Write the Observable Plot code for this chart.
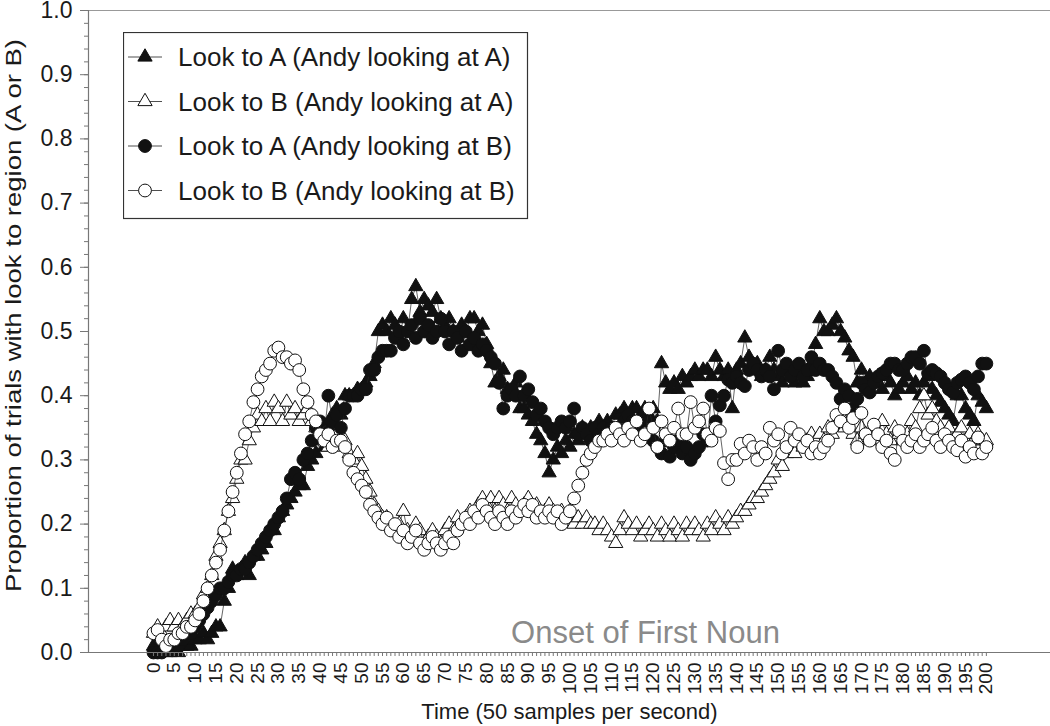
<!DOCTYPE html>
<html><head><meta charset="utf-8">
<script src="https://cdn.jsdelivr.net/npm/d3@7"></script>
<script src="https://cdn.jsdelivr.net/npm/@observablehq/plot@0.6"></script>
<style>
body{margin:0;background:#fff;font-family:"Liberation Sans",Arial,sans-serif;}
#wrap{position:relative;width:1050px;height:726px;overflow:hidden;}
#legend{position:absolute;left:123px;top:32px;}
</style></head><body><div id="wrap"></div>
<script>
// sample index (50 samples per second)
const samples = d3.range(0, 201);

const seriesNames = [
  "Look to A (Andy looking at A)",
  "Look to B (Andy looking at A)",
  "Look to A (Andy looking at B)",
  "Look to B (Andy looking at B)"
];

const lookA_andyA = [
  0.01,0.0,0.01,0.0,0.0,0.01,0.0,0.01,0.01,0.01,
  0.02,0.02,0.03,0.02,0.03,0.04,0.04,0.08,0.1,0.13,
  0.12,0.13,0.14,0.12,0.15,0.15,0.16,0.17,0.19,0.19,
  0.21,0.22,0.23,0.24,0.25,0.26,0.26,0.29,0.3,0.31,
  0.33,0.32,0.35,0.37,0.38,0.37,0.4,0.4,0.4,0.41,
  0.41,0.42,0.43,0.45,0.5,0.51,0.5,0.52,0.51,0.49,
  0.52,0.5,0.55,0.57,0.53,0.55,0.54,0.53,0.55,0.52,
  0.51,0.52,0.5,0.49,0.51,0.5,0.52,0.52,0.5,0.51,
  0.48,0.45,0.42,0.43,0.44,0.41,0.4,0.42,0.38,0.38,
  0.37,0.36,0.34,0.33,0.31,0.28,0.3,0.32,0.31,0.33,
  0.32,0.34,0.33,0.35,0.34,0.35,0.34,0.36,0.35,0.36,
  0.35,0.37,0.37,0.38,0.37,0.38,0.38,0.37,0.38,0.37,
  0.38,0.36,0.45,0.42,0.41,0.42,0.41,0.43,0.42,0.43,
  0.44,0.43,0.44,0.44,0.43,0.46,0.44,0.43,0.44,0.38,
  0.44,0.45,0.49,0.46,0.44,0.45,0.43,0.44,0.46,0.44,
  0.43,0.42,0.44,0.43,0.42,0.44,0.42,0.43,0.45,0.48,
  0.52,0.5,0.5,0.51,0.52,0.5,0.49,0.47,0.46,0.42,
  0.44,0.42,0.43,0.42,0.43,0.41,0.43,0.42,0.4,0.41,
  0.42,0.43,0.41,0.42,0.4,0.42,0.43,0.41,0.4,0.39,
  0.38,0.37,0.36,0.4,0.4,0.38,0.37,0.36,0.4,0.39,0.38
];

const lookB_andyA = [
  0.03,0.04,0.03,0.04,0.05,0.04,0.05,0.04,0.05,0.06,
  0.06,0.07,0.09,0.1,0.12,0.15,0.17,0.19,0.22,0.24,
  0.27,0.3,0.3,0.33,0.35,0.37,0.36,0.38,0.36,0.39,
  0.38,0.36,0.39,0.37,0.38,0.36,0.37,0.38,0.36,0.35,
  0.34,0.33,0.32,0.33,0.34,0.32,0.33,0.31,0.3,0.31,
  0.29,0.27,0.25,0.23,0.22,0.21,0.21,0.2,0.19,0.2,
  0.22,0.19,0.18,0.2,0.19,0.17,0.18,0.19,0.18,0.17,
  0.19,0.2,0.19,0.21,0.2,0.21,0.22,0.21,0.23,0.24,
  0.23,0.24,0.22,0.24,0.23,0.22,0.24,0.23,0.22,0.23,
  0.24,0.22,0.23,0.21,0.22,0.23,0.22,0.21,0.22,0.21,
  0.22,0.2,0.21,0.2,0.21,0.2,0.2,0.19,0.2,0.19,
  0.18,0.17,0.19,0.21,0.2,0.19,0.2,0.18,0.19,0.2,
  0.19,0.18,0.2,0.19,0.18,0.2,0.19,0.18,0.2,0.19,
  0.2,0.19,0.18,0.2,0.19,0.21,0.2,0.19,0.21,0.2,
  0.21,0.22,0.22,0.23,0.24,0.24,0.25,0.26,0.27,0.28,
  0.3,0.29,0.31,0.32,0.31,0.33,0.32,0.33,0.34,0.33,
  0.34,0.33,0.35,0.34,0.36,0.37,0.35,0.38,0.34,0.33,
  0.35,0.34,0.33,0.35,0.34,0.36,0.34,0.33,0.35,0.34,
  0.33,0.34,0.36,0.35,0.38,0.4,0.37,0.38,0.36,0.35,
  0.34,0.35,0.33,0.34,0.35,0.33,0.34,0.33,0.34,0.33,0.33
];

const lookA_andyB = [
  0.0,0.0,0.0,0.005,0.005,0.01,0.01,0.02,0.03,0.03,
  0.04,0.05,0.06,0.07,0.08,0.09,0.1,0.1,0.11,0.12,
  0.12,0.13,0.13,0.14,0.15,0.16,0.17,0.18,0.19,0.2,
  0.21,0.22,0.24,0.27,0.28,0.27,0.3,0.31,0.33,0.35,
  0.36,0.34,0.4,0.36,0.37,0.35,0.38,0.4,0.4,0.4,
  0.41,0.41,0.44,0.44,0.46,0.47,0.47,0.47,0.49,0.5,
  0.48,0.5,0.51,0.49,0.52,0.5,0.51,0.49,0.5,0.52,
  0.5,0.48,0.5,0.49,0.47,0.5,0.48,0.49,0.47,0.48,
  0.47,0.46,0.45,0.42,0.38,0.4,0.41,0.4,0.43,0.4,
  0.41,0.39,0.37,0.38,0.36,0.35,0.34,0.35,0.36,0.35,
  0.36,0.38,0.34,0.35,0.34,0.33,0.35,0.34,0.35,0.34,
  0.35,0.34,0.35,0.36,0.37,0.36,0.35,0.36,0.37,0.36,
  0.33,0.32,0.31,0.33,0.305,0.32,0.33,0.31,0.32,0.3,
  0.31,0.32,0.34,0.33,0.4,0.36,0.385,0.4,0.425,0.42,
  0.43,0.42,0.415,0.44,0.45,0.44,0.43,0.44,0.43,0.41,
  0.47,0.44,0.45,0.43,0.44,0.45,0.43,0.44,0.46,0.44,
  0.45,0.44,0.44,0.43,0.42,0.395,0.41,0.4,0.38,0.395,
  0.42,0.41,0.405,0.42,0.43,0.435,0.44,0.45,0.45,0.44,
  0.44,0.45,0.46,0.46,0.45,0.47,0.435,0.44,0.435,0.43,
  0.42,0.41,0.405,0.42,0.425,0.43,0.42,0.41,0.43,0.45,0.45
];

const lookB_andyB = [
  0.03,0.035,0.02,0.01,0.02,0.02,0.03,0.03,0.04,0.04,
  0.05,0.06,0.08,0.1,0.12,0.14,0.16,0.19,0.22,0.25,
  0.28,0.31,0.34,0.36,0.39,0.41,0.43,0.44,0.45,0.47,
  0.475,0.46,0.46,0.45,0.455,0.44,0.41,0.39,0.37,0.36,
  0.34,0.33,0.34,0.32,0.33,0.33,0.32,0.3,0.28,0.27,
  0.26,0.25,0.23,0.22,0.21,0.2,0.21,0.19,0.2,0.18,
  0.19,0.17,0.18,0.19,0.17,0.16,0.17,0.18,0.17,0.16,
  0.17,0.18,0.17,0.19,0.2,0.21,0.2,0.22,0.21,0.23,
  0.22,0.21,0.2,0.22,0.21,0.2,0.22,0.21,0.22,0.23,
  0.22,0.23,0.21,0.22,0.21,0.22,0.21,0.22,0.2,0.21,
  0.22,0.24,0.26,0.28,0.3,0.31,0.32,0.33,0.33,0.34,
  0.33,0.35,0.34,0.33,0.35,0.34,0.36,0.33,0.34,0.38,
  0.35,0.32,0.36,0.34,0.33,0.35,0.38,0.34,0.34,0.39,
  0.35,0.36,0.38,0.34,0.33,0.35,0.345,0.295,0.27,0.3,
  0.3,0.325,0.31,0.33,0.32,0.3,0.32,0.31,0.35,0.33,
  0.34,0.31,0.32,0.35,0.33,0.34,0.32,0.33,0.31,0.32,
  0.31,0.32,0.33,0.35,0.37,0.36,0.38,0.35,0.365,0.32,
  0.373,0.34,0.33,0.355,0.34,0.32,0.33,0.31,0.3,0.345,
  0.33,0.32,0.33,0.34,0.32,0.33,0.34,0.35,0.33,0.32,
  0.34,0.33,0.32,0.315,0.33,0.305,0.32,0.31,0.335,0.31,0.32
];

const xTickLabels = [0,5,10,15,20,25,30,35,40,45,50,55,60,65,70,75,80,85,90,95,100,105,110,115,120,125,130,135,140,145,150,155,160,165,170,175,180,185,190,195,200];
const yTickLabels = [0,0.1,0.2,0.3,0.4,0.5,0.6,0.7,0.8,0.9,1.0];

const seriesValues = [lookA_andyA, lookB_andyA, lookA_andyB, lookB_andyB];
const seriesStyle = [
  {symbol: "triangle", fill: "#111", r: 5.3},
  {symbol: "triangle", fill: "#fff", r: 5.3},
  {symbol: "circle", fill: "#111", r: 6.4},
  {symbol: "circle", fill: "#fff", r: 6.4}
];

const xDomain = [-15.6, 215.4];
const xMinor = samples;
const yMinor = d3.range(0, 51).map(i => i / 50);

const seriesMarks = [];
seriesValues.forEach((vals, i) => {
  const rows = samples.map(t => ({t, v: vals[t]}));
  const st = seriesStyle[i];
  seriesMarks.push(Plot.line(rows, {x: "t", y: "v", stroke: "#222", strokeWidth: 0.7}));
  seriesMarks.push(Plot.dot(rows, {x: "t", y: "v", symbol: st.symbol, r: st.r, fill: st.fill, stroke: "#111", strokeWidth: 1}));
});

const chart = Plot.plot({
  width: 1050, height: 726,
  marginLeft: 88, marginRight: 0, marginTop: 10, marginBottom: 74,
  x: {domain: xDomain},
  y: {domain: [0, 1]},
  style: {fontFamily: "'Liberation Sans', Arial, sans-serif", background: "#fff", color: "#1a1a1a"},
  marks: [
    Plot.ruleY([1], {stroke: "#999", strokeWidth: 1.2}),
    ...seriesMarks,
    Plot.ruleY([0], {stroke: "#777", strokeWidth: 1.2}),
    Plot.ruleX([xDomain[0]], {stroke: "#777", strokeWidth: 1.2}),
    Plot.axisY(yMinor, {tickSize: 4, tickFormat: () => "", stroke: "#777", label: null}),
    Plot.axisY(yTickLabels, {tickSize: 8, tickPadding: 8, tickFormat: d => d.toFixed(1), fontSize: 23, stroke: "#777", label: null}),
    Plot.axisX(xMinor, {tickSize: 4, tickFormat: () => "", stroke: "#777", label: null}),
    Plot.axisX(xTickLabels, {tickSize: 0, tickPadding: 10, tickRotate: -90, fontSize: 19, label: null}),
    Plot.text(["Proportion of trials with look to region (A or B)"], {frameAnchor: "left", textAnchor: "middle", rotate: -90, dx: -75, dy: -16, fontSize: 22, fill: "#1a1a1a"}),
    Plot.text(["Time (50 samples per second)"], {frameAnchor: "bottom", dy: 66, fontSize: 22, fill: "#1a1a1a"}),
    Plot.text(["Onset of First Noun"], {frameAnchor: "bottom", dx: 76, dy: -10, fontSize: 31, fill: "#8a8a8a"})
  ]
});
document.getElementById("wrap").appendChild(chart);

// Stretch the rotated y title along its direction, as in the reference
d3.select(chart).selectAll("text").filter(function () { return this.textContent.startsWith("Proportion"); })
  .each(function () {
    const t = this.getAttribute("transform") || "";
    this.setAttribute("transform", t + " scale(1.25,1)");
  });

// Legend (inside the plot area, top-left)
const lw = 404, lh = 186;
const leg = d3.select("#wrap").append("svg").attr("id", "legend").attr("width", lw + 2).attr("height", lh + 2);
leg.append("rect").attr("x", 0.5).attr("y", 0.5).attr("width", lw).attr("height", lh).attr("fill", "#fff").attr("stroke", "#333").attr("stroke-width", 1.2);
seriesNames.forEach((name, i) => {
  const cy = 25 + i * 44.5;
  const g = leg.append("g");
  g.append("line").attr("x1", 5).attr("x2", 39).attr("y1", cy).attr("y2", cy).attr("stroke", "#222").attr("stroke-width", 0.8);
  const st = seriesStyle[i];
  const sym = st.symbol === "triangle" ? d3.symbolTriangle : d3.symbolCircle;
  g.append("path").attr("d", d3.symbol(sym, Math.PI * st.r * st.r)()).attr("transform", `translate(22,${cy})`)
    .attr("fill", st.fill).attr("stroke", "#111").attr("stroke-width", 1);
  g.append("text").attr("x", 55).attr("y", cy).attr("dy", "0.35em").attr("font-size", 26).attr("fill", "#1a1a1a").text(name);
});
</script>
</body></html>
